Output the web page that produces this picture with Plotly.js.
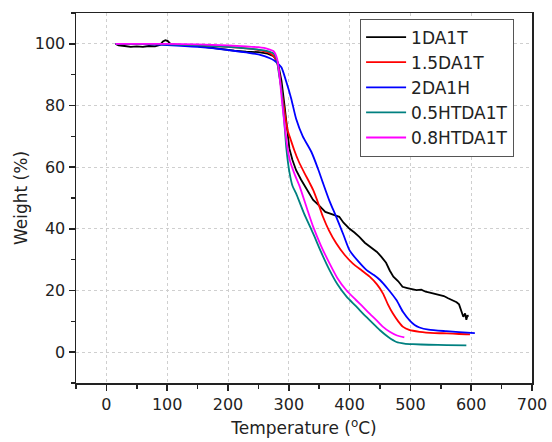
<!DOCTYPE html>
<html>
<head>
<meta charset="utf-8">
<script src="https://cdn.plot.ly/plotly-3.0.1.min.js"></script>
<style>html,body{margin:0;padding:0;background:#fff;}#chart{width:552px;height:442px;}</style>
</head>
<body>
<div id="chart"></div>
<script>
// Series names
const seriesNames = ['1DA1T', '1.5DA1T', '2DA1H', '0.5HTDA1T', '0.8HTDA1T'];

// 1DA1T (black)
const tempA = [15,20,30,40,50,60,70,80,88,93,97,101,106,115,130,150,170,190,210,230,250,265,275,282,288,293,297,301,306,312,320,330,340,350,360,367,375,383,390,400,408,416,425,435,445,452,460,466,472,480,487,495,502,510,518,525,532,540,548,555,562,570,576,580,584,587,590,592,594,595];
const weightA = [100,99.5,99.3,99.0,99.2,99.0,99.3,99.2,99.6,100.8,101.2,100.9,99.8,99.6,99.5,99.3,98.8,98.2,97.8,97.5,97.3,96.8,96,94,88,80,72,66,62.3,59,56,52.5,49.4,47.5,45.5,45,44.5,43.9,42,40,38.8,37.4,35.5,34,32.5,31,29,26.5,24.5,23,21.2,20.8,20.5,20.1,20.3,19.6,19.3,19,18.6,18.2,17.5,16.9,16.2,15.5,13,11.5,12.6,10.5,12,11.5];

// 1.5DA1T (red)
const tempB = [15,50,100,150,200,230,250,265,275,282,288,293,298,303,309,316,326,334,340,348,356,366,378,392,405,420,433,445,455,463,471,480,488,498,515,540,560,580,598];
const weightB = [100,100,99.8,99.6,99.0,98.5,98,97.3,96,93,85,78,72,69,65.5,62,58,55,52.6,48.5,44,39.5,35.3,31.5,28.8,26.5,24.5,22,19,15.5,12.6,10,8.2,7.2,6.6,6.2,6.1,5.9,5.8];

// 2DA1H (blue)
const tempC = [15,50,100,150,200,230,250,260,268,276,282,288,296,304,312,323,337,348,356,367,378,390,400,414,428,440,450,463,477,488,499,507,515,530,559,580,606];
const weightC = [100,100,99.6,99.0,98,97.2,96.6,96,95.4,94.6,93.6,92.3,87.6,82.2,75.7,70,65,59.5,55,49,43.9,38,33,29.5,26.6,25,23.4,20.5,16.9,13,10.2,8.8,8.0,7.3,6.8,6.5,6.2];

// 0.5HTDA1T (teal)
const tempD = [15,50,100,150,200,230,250,265,275,280,284,287.5,293,296,301,306,312,325,340,353,367,380,395,410,427,440,450,463,477,490,504,530,560,592];
const weightD = [100,100,99.8,99.5,99.0,98.5,98.1,97.6,96.8,95,90,85.6,73.6,66,58.4,54,51.5,45,38.5,32.5,26.6,22,18,15,11.5,9,7.1,5,3.3,2.8,2.6,2.4,2.3,2.2];

// 0.8HTDA1T (magenta)
const tempE = [15,50,100,150,200,230,250,265,275,281,285,289,294,298,302,310,318,330,340,353,367,380,395,410,422,433,444,455,466,478,490];
const weightE = [100,100,100,99.8,99.5,99.2,98.9,98.4,97.6,95,89,81,72,66,62,57.5,53.7,46.5,40.7,34.5,28.8,24,20,17,14.7,12.5,10.4,8.2,6.6,5.4,4.8];

const xTickVals = [0,100,200,300,400,500,600,700];
const yTickVals = [0,20,40,60,80,100];

const colors = ['#000000', '#ff0000', '#0000ff', '#008080', '#ff00ff'];
const xs = [tempA, tempB, tempC, tempD, tempE];
const ys = [weightA, weightB, weightC, weightD, weightE];

const FONT = 'DejaVu Sans, Liberation Sans, Arial, sans-serif';

const traces = seriesNames.map((n, i) => ({
  x: xs[i], y: ys[i], name: n, type: 'scatter', mode: 'lines',
  line: {color: colors[i], width: 1.8, shape: i === 0 ? 'linear' : 'spline', smoothing: 0.6}
}));

const axisCommon = {
  showline: true, linecolor: '#222', linewidth: 1.5, mirror: true,
  ticks: 'outside', ticklen: 6, tickwidth: 1.5, tickcolor: '#222',
  showgrid: true, gridcolor: '#cfcfcf', griddash: 'dot', gridwidth: 1,
  zeroline: false,
  tickfont: {family: FONT, size: 16, color: '#222'},
  minor: {ticks: 'outside', ticklen: 4, tickwidth: 1.5, tickcolor: '#222', showgrid: false}
};

const layout = {
  width: 552, height: 442,
  margin: {l: 76, r: 20, t: 13, b: 59},
  paper_bgcolor: '#fff', plot_bgcolor: '#fff',
  showlegend: true,
  legend: {
    x: 0.623, y: 0.985, xanchor: 'left', yanchor: 'top',
    bordercolor: '#555', borderwidth: 1, bgcolor: '#fff',
    font: {family: FONT, size: 17, color: '#222'},
    itemwidth: 40,
    tracegroupgap: 0
  },
  xaxis: Object.assign({}, axisCommon, {
    range: [-50, 700], tickvals: xTickVals, ticktext: xTickVals.map(String),
    minor: Object.assign({}, axisCommon.minor, {dtick: 50, tick0: 0}),
    title: {text: 'Temperature (<sup>o</sup>C)', font: {family: FONT, size: 17, color: '#222'}, standoff: 9}
  }),
  yaxis: Object.assign({}, axisCommon, {
    range: [-10, 110], tickvals: yTickVals, ticktext: yTickVals.map(String),
    minor: Object.assign({}, axisCommon.minor, {dtick: 10, tick0: 0}),
    title: {text: 'Weight (%)', font: {family: FONT, size: 17, color: '#222'}, standoff: 3}
  })
};

Plotly.newPlot('chart', traces, layout, {displayModeBar: false, staticPlot: true});
</script>
</body>
</html>
